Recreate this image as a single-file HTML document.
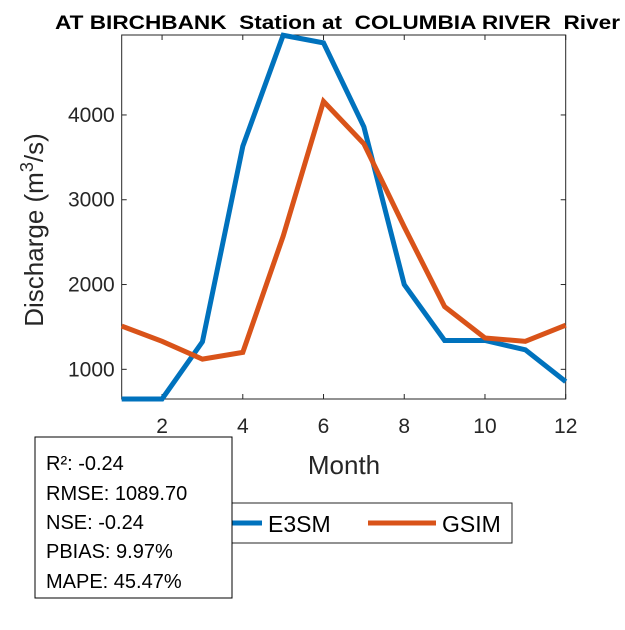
<!DOCTYPE html>
<html><head><meta charset="utf-8"><style>
body{margin:0;background:#fff;}
svg text{font-family:"Liberation Sans",Arial,sans-serif;white-space:pre;}
</style></head><body>
<svg id="chart" width="625" height="625">
<rect width="625" height="625" fill="#fff"/>
<text x="55" y="29" font-size="19" font-weight="bold" textLength="565" lengthAdjust="spacingAndGlyphs" xml:space="preserve">AT BIRCHBANK  Station at  COLUMBIA RIVER  River</text>
<rect x="121.7" y="35" width="444" height="364" fill="#fff" stroke="#262626" stroke-width="1"/>
<g id="ticks"></g>
<g id="series"></g>
<text x="344" y="474" font-size="26" fill="#262626" text-anchor="middle">Month</text>
<text transform="translate(43,230) rotate(-90)" font-size="26" fill="#262626" text-anchor="middle">Discharge (m<tspan font-size="18" dy="-10">3</tspan><tspan dy="10">/s)</tspan></text>
<g>
<rect x="200" y="503" width="312" height="40" fill="#fff" stroke="#262626"/>
<line x1="208" y1="523" x2="262" y2="523" stroke="#0072BD" stroke-width="5"/>
<text x="268" y="532" font-size="23" fill="#000">E3SM</text>
<line x1="368" y1="523" x2="436" y2="523" stroke="#D95319" stroke-width="5"/>
<text x="442" y="532" font-size="23" fill="#000">GSIM</text>
</g>
<g>
<rect x="35" y="437" width="197" height="161" fill="#fff" stroke="#000"/>
<text x="46" y="470" font-size="20">R²: -0.24</text>
<text x="46" y="500" font-size="20">RMSE: 1089.70</text>
<text x="46" y="529" font-size="20">NSE: -0.24</text>
<text x="46" y="558" font-size="20">PBIAS: 9.97%</text>
<text x="46" y="588" font-size="20">MAPE: 45.47%</text>
</g>
</svg>
<script>
const months=[1,2,3,4,5,6,7,8,9,10,11,12];
const e3sm=[640,650,1325,3630,4940,4850,3860,2000,1340,1340,1230,855];
const gsim=[1510,1330,1120,1200,2570,4160,3660,2680,1740,1370,1330,1520];
const xTicks=[2,4,6,8,10,12];
const yTicks=[1000,2000,3000,4000];
const X0=121.7,X1=565.7,Y0=399,Y1=35,XMIN=1,XMAX=12,YMIN=650,YMAX=4943;
function xs(v){return X0+(v-XMIN)/(XMAX-XMIN)*(X1-X0);}
function ys(v){return Y0-(v-YMIN)/(YMAX-YMIN)*(Y0-Y1);}
const NS="http://www.w3.org/2000/svg";
const tg=document.getElementById('ticks');
function mk(t,a,p){const e=document.createElementNS(NS,t);for(const k in a)e.setAttribute(k,a[k]);p.appendChild(e);return e;}
xTicks.forEach(v=>{
 const x=xs(v);
 const l1=mk('line',{x1:x,x2:x,y1:Y0,y2:Y0-5,stroke:'#262626'},tg);
 
 
 const l2=mk('line',{x1:x,x2:x,y1:Y1,y2:Y1+5,stroke:'#262626'},tg);
 
 
 const t=mk('text',{x:x,y:433,'font-size':21,fill:'#262626','text-anchor':'middle'},tg);
 t.textContent=v;
 
 
});
yTicks.forEach(v=>{
 const y=ys(v);
 const l1=mk('line',{x1:X0,x2:X0+5,y1:y,y2:y,stroke:'#262626'},tg);
 
 
 const l2=mk('line',{x1:X1,x2:X1-5,y1:y,y2:y,stroke:'#262626'},tg);
 
 
 const t=mk('text',{x:X0-7,y:y+7,'font-size':21,fill:'#262626','text-anchor':'end'},tg);
 t.textContent=v;
 
 
});
const sg=document.getElementById('series');
function line(vals,color,name){
 const pts=months.map((m,i)=>xs(m)+','+Math.min(Y0,Math.max(Y1,ys(vals[i])))).join(' ');
 const p=mk('polyline',{points:pts,fill:'none',stroke:color,'stroke-width':5,'stroke-linejoin':'miter'},sg);
 
 
}
line(e3sm,'#0072BD','e3sm-line');
line(gsim,'#D95319','gsim-line');
</script>
</body></html>
